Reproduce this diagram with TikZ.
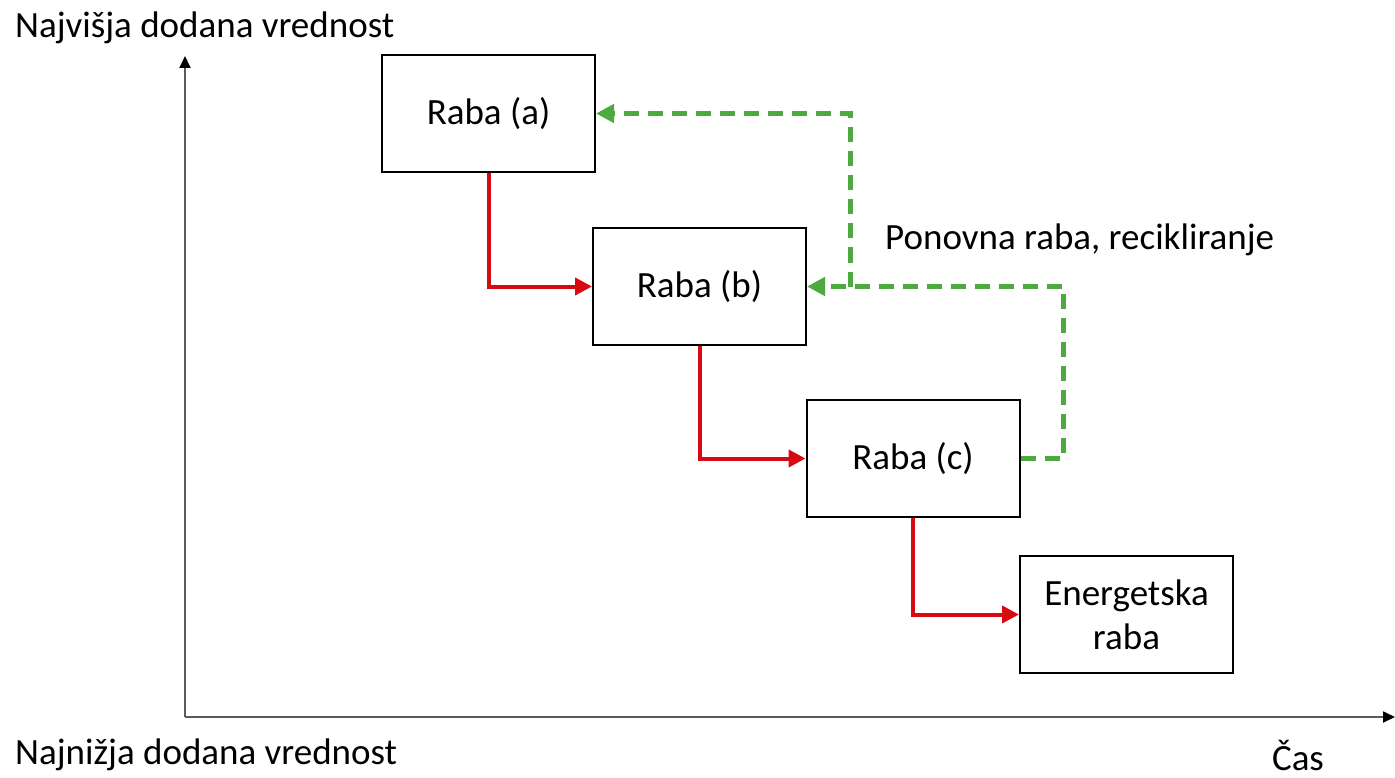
\documentclass[tikz,border=0pt]{standalone}
\usepackage{fontspec}
\setmainfont{Carlito}
\usetikzlibrary{arrows.meta}
\definecolor{flowred}{RGB}{214,10,16}
\definecolor{loopgreen}{RGB}{76,170,62}
\definecolor{axisgray}{RGB}{90,90,90}

\begin{document}
\begin{tikzpicture}[x=1pt,y=-1pt,
	usebox/.style={draw,line width=2pt,minimum width=213pt,minimum height=117pt,inner sep=0pt,align=center},
	downflow/.style={flowred,line width=4pt,-{Triangle[length=17pt,width=17pt]}},
	backflow/.style={loopgreen,line width=5pt,dash pattern=on 15pt off 9pt,-{Triangle[length=18pt,width=18pt]}},
	axisline/.style={axisgray,line width=1.8pt,-{Triangle[length=12pt,width=11pt,black]}}]
	\useasboundingbox (0,0) rectangle (1395,778);
	\fontsize{37}{44}\selectfont

	% axes
	\coordinate (origin) at (185,717);
	\coordinate (ytop) at (185,56);
	\coordinate (xend) at (1395,717);
	\draw[axisline] (origin) -- (ytop);
	\draw[axisline] (origin) -- (xend);
	\node[anchor=west,inner sep=0pt] (hi) at (15,28) {Najvišja dodana vrednost};
	\node[anchor=west,inner sep=0pt] (lo) at (15,755) {Najnižja dodana vrednost};
	\node[anchor=south,inner sep=0pt] (cas) at (1298,771) {Čas};

	% stages of use
	\node[usebox] (a) at (488.5,113.5) {Raba (a)};
	\node[usebox] (b) at (699.5,286.5) {Raba (b)};
	\node[usebox] (c) at (913,458.5) {Raba (c)};
	\node[usebox] (e) at (1126.5,614.5) {Energetska\\raba};

	% cascade
	\draw[downflow] (a.south) |- (b.west);
	\draw[downflow] (b.south) |- (c.west);
	\draw[downflow] (c.south) |- (e.west);

	% reuse loop
	\coordinate (turn) at (1063,458.5);
	\coordinate (fork) at (850,286.5);
	\draw[backflow] (c.east) -- (turn) |- (b.east);
	\draw[backflow] (fork) |- (a.east);
	\node[anchor=west,inner sep=0pt] (reuse) at (885,240) {Ponovna raba, recikliranje};
\end{tikzpicture}
\end{document}
